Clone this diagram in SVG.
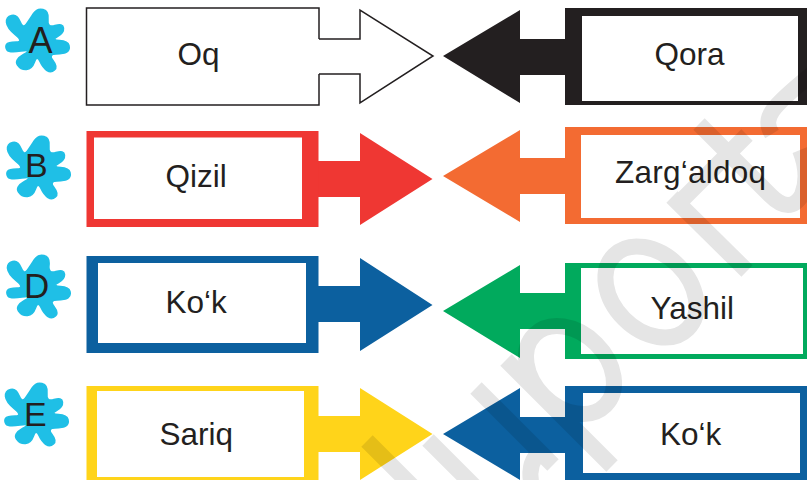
<svg xmlns="http://www.w3.org/2000/svg" width="807" height="480" viewBox="0 0 807 480">
<style>
text{font-family:"Liberation Sans",Arial,sans-serif;fill:#231f20}
.t{font-size:31.5px}
.l{font-size:34px}
.in{fill:#fff}
.blob{fill:#1fbfe6;stroke:#1fbfe6;stroke-width:1.5;stroke-linejoin:round}
.wm{fill:none;stroke:#000;stroke-width:16}
</style>
<defs>
<path id="blob" d="M43 9.500Q49 11 48 19.500Q47 28 55 25.500Q63 23 63.500 28Q64 33 57.500 36.500Q51 40 59.500 40.500Q68 41 69 45.500Q70 50 67 52Q64 54 56 54Q48 54 53 60.500Q58 67 54.500 70Q51 73 47 70.500Q43 68 40 61.500Q37 55 34.500 62Q32 69 26.500 69.500Q21 70 17.500 65Q14 60 23.500 54.500Q33 49 21 51Q9 53 7 50Q5 47 6.500 44.500Q8 42 16 42Q24 42 15.500 35Q7 28 6.500 22.500Q6 17 11.500 15.500Q17 14 20 21.500Q23 29 26.500 24Q30 19 33.500 13.500Q37 8 43 9.500Z"/>
</defs>
<rect width="807" height="480" fill="#fff"/>
<g id="badge-a"><use href="#blob" class="blob"/><text class="l" x="28.500" y="52.700" style="font-size:36px">A</text></g>
<g id="badge-b"><use href="#blob" class="blob" x="1" y="127"/><text class="l" x="25" y="177">B</text></g>
<g id="badge-d"><use href="#blob" class="blob" x="1" y="246"/><text class="l" x="24" y="298" style="font-size:35px">D</text></g>
<g id="badge-e"><use href="#blob" class="blob" x="-1" y="374"/><text class="l" x="24" y="426">E</text></g>
<g id="connectors">
<path d="M319 39H360V10L433 56L360 103V74H319" fill="#fff" stroke="#231f20" stroke-width="1.5"/>
<path d="M565 39H520V10L443 56L520 103V75H565Z" fill="#231f20"/>
<path d="M318 161H360V133L432.500 179L360 225V197H318Z" fill="#ef3733"/>
<path d="M566 158H520V130L443 176L520 222V194H566Z" fill="#f36b32"/>
<path d="M318 286H360V258L432.500 305L360 351V322H318Z" fill="#0c609f"/>
<path d="M566 293H520V265L443 311L520 358V329H566Z" fill="#01aa5d"/>
<path d="M318 416H360V388L432.500 434L360 480V452H318Z" fill="#ffd41a"/>
<path d="M566 417H520V388L443 434L520 480V453H566Z" fill="#0c609f"/>
</g>
<g id="node-oq"><path d="M319 39V8H86.500V105H319V74" fill="#fff" stroke="#231f20" stroke-width="1.5"/><text class="t" x="177.500" y="65">Oq</text></g>
<g id="node-qora"><rect x="565" y="8" width="242" height="97" fill="#231f20"/><rect class="in" x="582" y="16" width="216" height="85"/><text class="t" x="654.500" y="65">Qora</text></g>
<g id="node-qizil"><rect x="86.500" y="131" width="232" height="96" fill="#ef3733"/><rect class="in" x="94" y="137.500" width="208" height="81.500"/><text class="t" x="165.500" y="187">Qizil</text></g>
<g id="node-zargaldoq"><rect x="565" y="127" width="242" height="97" fill="#f36b32"/><rect class="in" x="581" y="135" width="219" height="83"/><text class="t" x="615" y="183" textLength="151" lengthAdjust="spacing">Zarg‘aldoq</text></g>
<g id="node-kok-left"><rect x="86.500" y="256" width="232" height="97" fill="#0c609f"/><rect class="in" x="98" y="263" width="208" height="80"/><text class="t" x="165.500" y="313">Ko‘k</text></g>
<g id="node-yashil"><rect x="565" y="263" width="242" height="96" fill="#01aa5d"/><rect class="in" x="581" y="268" width="222" height="86"/><text class="t" x="650.500" y="318.500">Yashil</text></g>
<g id="node-sariq"><rect x="86.500" y="386" width="232" height="94" fill="#ffd41a"/><rect class="in" x="97" y="391" width="207" height="86"/><text class="t" x="159.500" y="444.500">Sariq</text></g>
<g id="node-kok-right"><rect x="565" y="386" width="242" height="94" fill="#0c609f"/><rect class="in" x="583" y="393" width="217" height="80"/><text class="t" x="660" y="444.500">Ko‘k</text></g>
<g id="watermark" opacity=".105">
<path class="wm" d="M367 441L415 489"/>
<path class="wm" d="M428 440L475 487"/>
<path class="wm" d="M476 388L553 465"/>
<path class="wm" d="M506 360L612 466"/>
<ellipse class="wm" cx="570" cy="370" rx="50" ry="37" transform="rotate(45 570 370)"/>
<ellipse class="wm" cx="651" cy="292" rx="52" ry="38" transform="rotate(45 651 292)"/>
<path class="wm" d="M672 197L747 271"/>
<path class="wm" d="M747 135L680 202"/>
<path class="wm" d="M699 124L770 195Q790 215 802 195Q810 175 800 150"/>
<path class="wm" d="M772 134C762 118 770 108 812 74"/>
<path class="wm" d="M531 482Q528 462 540 452"/>
</g>
</svg>
